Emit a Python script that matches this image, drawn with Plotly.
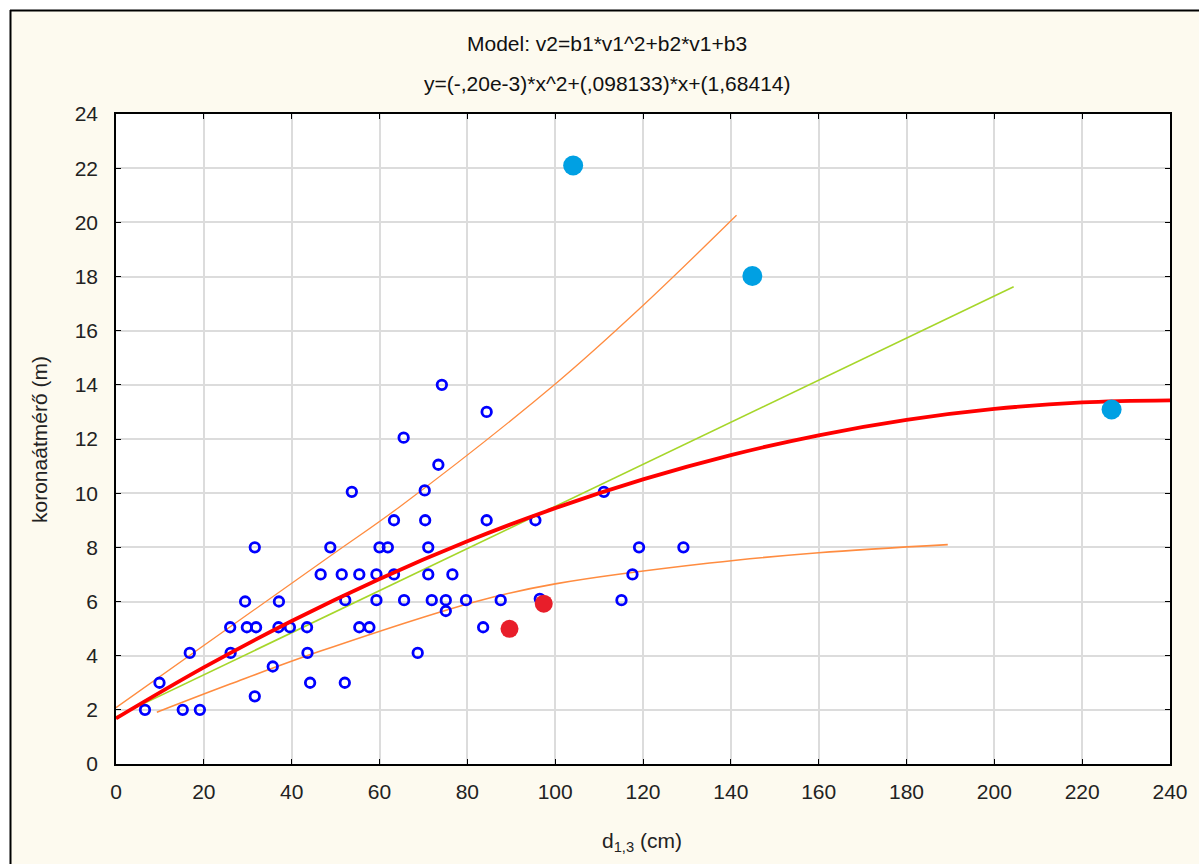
import plotly.graph_objects as go

# ---------------- data ----------------
blue_x = [6.6, 9.9, 15.2, 19.1, 16.8, 26.1, 26.0, 29.4, 29.8, 31.9, 31.6, 31.6, 35.7, 37.1,
          37.0, 39.6, 43.5, 43.6, 44.2, 46.6, 48.8, 51.4, 52.2, 52.1, 53.7, 55.4, 55.4, 57.7,
          59.3, 59.3, 60.0, 61.9, 63.3, 63.3, 65.6, 65.5, 68.7, 70.3, 70.4, 71.1, 71.1, 71.9,
          73.4, 74.2, 75.1, 75.1, 76.6, 79.7, 83.6, 84.4, 84.4, 87.6, 95.5, 96.5, 111.1,
          115.1, 117.6, 119.1, 129.2]
blue_y = [2.0, 3.0, 2.0, 2.0, 4.1, 4.1, 5.05, 6.0, 5.05, 5.05, 8.0, 2.5, 3.6, 6.0,
          5.05, 5.05, 5.05, 4.1, 3.0, 7.0, 8.0, 7.0, 6.05, 3.0, 10.05, 5.05, 7.0, 5.05,
          7.0, 6.05, 8.0, 8.0, 9.0, 7.0, 6.05, 12.05, 4.1, 10.1, 9.0, 8.0, 7.0, 6.05,
          11.05, 14.0, 6.05, 5.65, 7.0, 6.05, 5.05, 13.0, 9.0, 6.05, 9.0, 6.1, 10.05,
          6.05, 7.0, 8.0, 8.0]

cyan_x = [104.1, 144.9, 226.7]
cyan_y = [22.1, 18.02, 13.09]

red_x = [89.6, 97.4]
red_y = [4.99, 5.92]

# fitted model curve y=(-,20e-3)*x^2+(,098133)*x+(1,68414), sampled
fit_x = [0, 20, 40, 60, 80, 100, 120, 140, 160, 180, 200, 220, 240]
fit_y = [1.684, 3.565, 5.281, 6.834, 8.223, 9.447, 10.508, 11.405, 12.137, 12.706,
         13.111, 13.351, 13.428]

green_x = [0, 204.4]
green_y = [1.74, 17.62]

upper_x = [0, 48.7, 64.7, 100.3, 120, 141.3]
upper_y = [2.08, 7.67, 9.51, 14.07, 16.93, 20.26]

lower_x = [9.3, 26, 46.4, 82.9, 100, 135.2, 160, 189.4]
lower_y = [1.91, 2.95, 4.16, 6.04, 6.65, 7.42, 7.8, 8.1]

x_ticks = list(range(0, 241, 20))
y_ticks = list(range(0, 25, 2))

title1 = "Model: v2=b1*v1^2+b2*v1+b3"
title2 = "y=(-,20e-3)*x^2+(,098133)*x+(1,68414)"
x_title = "d<sub>1,3</sub> (cm)"
y_title = "koronaátmérő (m)"

# ---------------- layout geometry ----------------
W, H = 1199, 864
ML, MR, MT, MB = 116, 29, 114, 100
PW, PH = W - ML - MR, H - MT - MB


def px(xp):
    return (xp - ML) / PW


def py(yp):
    return (H - MB - yp) / PH


FONT = "Liberation Sans, Arial, sans-serif"
ORANGE = "#ff8c40"
FS = 21

fig = go.Figure()

fig.add_trace(go.Scatter(x=upper_x, y=upper_y, mode="lines",
                         line=dict(color=ORANGE, width=1.3, shape="spline"),
                         hoverinfo="skip", showlegend=False))
fig.add_trace(go.Scatter(x=lower_x, y=lower_y, mode="lines",
                         line=dict(color=ORANGE, width=1.6, shape="spline"),
                         hoverinfo="skip", showlegend=False))
fig.add_trace(go.Scatter(x=green_x, y=green_y, mode="lines",
                         line=dict(color="#a6d62a", width=1.6),
                         hoverinfo="skip", showlegend=False))
fig.add_trace(go.Scatter(x=blue_x, y=blue_y, mode="markers",
                         marker=dict(symbol="circle-open", size=9.5, color="#0000ff",
                                     line=dict(width=2.8, color="#0000ff")),
                         showlegend=False))
fig.add_trace(go.Scatter(x=fit_x, y=fit_y, mode="lines",
                         line=dict(color="#ff0000", width=3.8, shape="spline"),
                         hoverinfo="skip", showlegend=False))
fig.add_trace(go.Scatter(x=red_x, y=red_y, mode="markers",
                         marker=dict(symbol="circle", size=18, color="#e81e2a"),
                         showlegend=False))
fig.add_trace(go.Scatter(x=cyan_x, y=cyan_y, mode="markers",
                         marker=dict(symbol="circle", size=20, color="#00a0e3"),
                         showlegend=False))

axis_common = dict(
    showgrid=True, gridcolor="#dcdcdc", gridwidth=2,
    showline=True, linecolor="black", linewidth=1.5, mirror="ticks",
    ticks="inside", ticklen=5, tickcolor="black", tickwidth=1,
    zeroline=False,
    tickfont=dict(family=FONT, size=FS, color="#222222"),
)

fig.update_xaxes(range=[0, 240], tickvals=x_ticks, ticktext=[str(v) for v in x_ticks],
                 ticklabelstandoff=8, **axis_common)
fig.update_yaxes(range=[0, 24], tickvals=y_ticks, ticktext=[str(v) for v in y_ticks],
                 ticklabelstandoff=12, **axis_common)

shapes = [
    # white outside the frame (top strip and left strip)
    dict(type="rect", xref="paper", yref="paper", x0=px(-20), x1=px(W + 20),
         y0=py(10), y1=py(-20), fillcolor="white", line=dict(width=0), layer="below"),
    dict(type="rect", xref="paper", yref="paper", x0=px(-20), x1=px(10),
         y0=py(H + 20), y1=py(-20), fillcolor="white", line=dict(width=0), layer="below"),
    # frame lines
    dict(type="line", xref="paper", yref="paper", x0=px(10), x1=px(W + 20),
         y0=py(10.5), y1=py(10.5), line=dict(color="black", width=2), layer="above"),
    dict(type="line", xref="paper", yref="paper", x0=px(10.5), x1=px(10.5),
         y0=py(10), y1=py(H + 20), line=dict(color="black", width=2), layer="above"),
]

annotations = [
    dict(text=title1, x=px(607), y=py(44), xref="paper", yref="paper",
         showarrow=False, xanchor="center", yanchor="middle",
         font=dict(family=FONT, size=FS, color="#111111")),
    dict(text=title2, x=px(607), y=py(84), xref="paper", yref="paper",
         showarrow=False, xanchor="center", yanchor="middle",
         font=dict(family=FONT, size=FS, color="#111111")),
    dict(text=x_title, x=px(642), y=py(842), xref="paper", yref="paper",
         showarrow=False, xanchor="center", yanchor="middle",
         font=dict(family=FONT, size=FS, color="#222222")),
    dict(text=y_title, x=px(40), y=py(440), xref="paper", yref="paper",
         showarrow=False, xanchor="center", yanchor="middle", textangle=-90,
         font=dict(family=FONT, size=FS, color="#222222")),
]

fig.update_layout(
    width=W, height=H,
    margin=dict(l=ML, r=MR, t=MT, b=MB, pad=0),
    paper_bgcolor="#fdfaef",
    plot_bgcolor="white",
    shapes=shapes,
    annotations=annotations,
    showlegend=False,
)

fig.write_html("out.html")
